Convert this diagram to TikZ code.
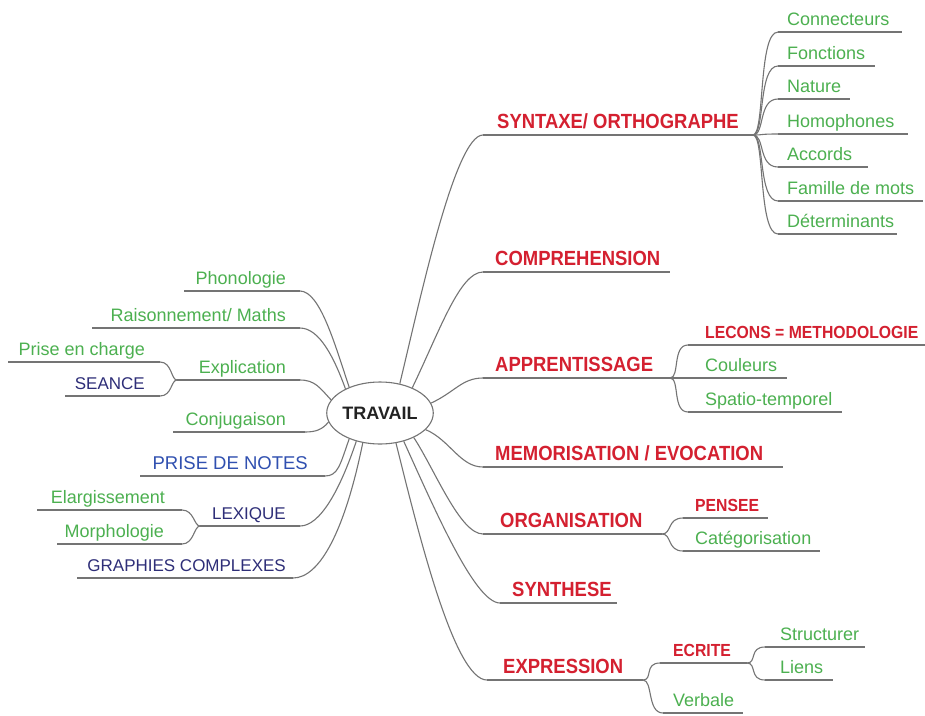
\documentclass[tikz,border=0pt]{standalone}
\usepackage{fontspec}
\setmainfont{Liberation Sans}
\newfontfamily\condsans{Liberation Sans}[FakeStretch=0.9]
\usetikzlibrary{shapes.geometric}

\definecolor{tred}{HTML}{D42030}
\definecolor{tgreen}{HTML}{4CB050}
\definecolor{tnavy}{HTML}{2E2E78}
\definecolor{tblue}{HTML}{3050B0}
\definecolor{linegray}{HTML}{747474}
\definecolor{textdark}{HTML}{222222}

% #1 name, #2 style, #3 text anchor, #4 text x, #5 underline y,
% #6 underline left end, #7 underline right end, #8 text
\newcommand\mmlabel[8]{%
  \coordinate (#1-l) at (#6,#5);
  \coordinate (#1-r) at (#7,#5);
  \node[#2, anchor=#3] (#1) at (#4,#5-7) {#8};
  \draw[link] (#1-l) -- (#1-r);
}

\begin{document}
\begin{tikzpicture}[x=1pt, y=-1pt,
  link/.style={draw=linegray, line width=1.1pt},
  ttl/.style={font=\condsans\bfseries\fontsize{20.5}{22}\selectfont, text=tred, inner sep=0},
  subred/.style={font=\condsans\bfseries\fontsize{17.5}{19}\selectfont, text=tred, inner sep=0},
  leaf/.style={font=\fontsize{18}{20}\selectfont, text=tgreen, inner sep=0},
  navy/.style={font=\fontsize{17}{19}\selectfont, text=tnavy, inner sep=0},
  bluet/.style={font=\fontsize{18.5}{20}\selectfont, text=tblue, inner sep=0},
  hub/.style={ellipse, draw=linegray, line width=1.1pt, fill=white,
    minimum width=105pt, minimum height=62pt, inner sep=0,
    font=\bfseries\fontsize{18}{20}\selectfont, text=textdark}]

\fill[white] (0,0) rectangle (925,715);
\useasboundingbox (0,0) rectangle (925,715);

% centre
\node[hub] (travail) at (380,413) {TRAVAIL};

% ---------- right-hand branches ----------
\mmlabel{syn}{ttl}{base west}{497}{135}{483}{753}{SYNTAXE/ ORTHOGRAPHE}
\mmlabel{comp}{ttl}{base west}{495}{272}{483}{670}{COMPREHENSION}
\mmlabel{appr}{ttl}{base west}{495}{378}{483}{670}{APPRENTISSAGE}
\mmlabel{memo}{ttl}{base west}{495}{467}{483}{783}{MEMORISATION / EVOCATION}
\mmlabel{orga}{ttl}{base west}{500}{534}{483}{662}{ORGANISATION}
\mmlabel{synt}{ttl}{base west}{512}{603}{500}{617}{SYNTHESE}
\mmlabel{expr}{ttl}{base west}{503}{680}{487}{643}{EXPRESSION}

% syntaxe / orthographe
\mmlabel{con}{leaf}{base west}{787}{32}{778}{902}{Connecteurs}
\mmlabel{fon}{leaf}{base west}{787}{66}{778}{875}{Fonctions}
\mmlabel{nat}{leaf}{base west}{787}{99}{778}{850}{Nature}
\mmlabel{hom}{leaf}{base west}{787}{134}{778}{908}{Homophones}
\mmlabel{acc}{leaf}{base west}{787}{167}{778}{868}{Accords}
\mmlabel{fam}{leaf}{base west}{787}{201}{778}{923}{Famille de mots}
\mmlabel{det}{leaf}{base west}{787}{234}{778}{897}{Déterminants}

% apprentissage
\mmlabel{lec}{subred}{base west}{705}{345}{688}{925}{LECONS = METHODOLOGIE}
\mmlabel{cou}{leaf}{base west}{705}{378}{688}{787}{Couleurs}
\mmlabel{spa}{leaf}{base west}{705}{412}{688}{842}{Spatio-temporel}

% organisation
\mmlabel{pen}{subred}{base west}{695}{518}{683}{768}{PENSEE}
\mmlabel{cat}{leaf}{base west}{695}{551}{683}{820}{Catégorisation}

% expression
\mmlabel{ecr}{subred}{base west}{673}{663}{660}{747}{ECRITE}
\mmlabel{ver}{leaf}{base west}{673}{713}{663}{743}{Verbale}
\mmlabel{str}{leaf}{base west}{780}{647}{765}{865}{Structurer}
\mmlabel{lie}{leaf}{base west}{780}{680}{765}{833}{Liens}

% ---------- left-hand branches ----------
\mmlabel{pho}{leaf}{base east}{286}{291}{184}{300}{Phonologie}
\mmlabel{rai}{leaf}{base east}{286}{328}{92}{300}{Raisonnement/ Maths}
\mmlabel{exl}{leaf}{base east}{286}{380}{177}{300}{Explication}
\mmlabel{pec}{leaf}{base east}{145}{362}{8}{160}{Prise en charge}
\mmlabel{sea}{navy}{base east}{145}{396}{65}{160}{SEANCE}
\mmlabel{cnj}{leaf}{base east}{286}{432}{173}{305}{Conjugaison}
\mmlabel{pdn}{bluet}{base east}{308}{476}{140}{325}{PRISE DE NOTES}
\mmlabel{lex}{navy}{base east}{286}{526}{200}{300}{LEXIQUE}
\mmlabel{ela}{leaf}{base east}{165}{510}{37}{182}{Elargissement}
\mmlabel{mor}{leaf}{base east}{164}{544}{57}{182}{Morphologie}
\mmlabel{gra}{navy}{base east}{286}{578}{77}{293}{GRAPHIES COMPLEXES}

% ---------- connectors from the centre ----------
\draw[link] (travail.56)  .. controls (420,300) and (455,135) .. (syn-l);
\draw[link] (travail.38)  .. controls (440,330) and (460,272) .. (comp-l);
\draw[link] (travail.11)  .. controls (455,392) and (462,378) .. (appr-l);
\draw[link] (travail.-20) .. controls (450,440) and (460,467) .. (memo-l);
\draw[link] (travail.-36) .. controls (435,470) and (460,534) .. (orga-l);
\draw[link] (travail.-50) .. controls (435,510) and (475,603) .. (synt-l);
\draw[link] (travail.-62) .. controls (420,540) and (455,680) .. (expr-l);

\draw[link] (travail.140) .. controls (335,345) and (320,291) .. (pho-r);
\draw[link] (travail.145) .. controls (335,360) and (320,328) .. (rai-r);
\draw[link] (travail.165) .. controls (320,388) and (315,380) .. (exl-r);
\draw[link] (travail.190) .. controls (322,430) and (315,432) .. (cnj-r);
\draw[link] (travail.-140) .. controls (340,465) and (338,476) .. (pdn-r);
\draw[link] (travail.-130) .. controls (340,490) and (320,526) .. (lex-r);
\draw[link] (travail.-120) .. controls (345,530) and (320,578) .. (gra-r);

% ---------- sub-branch connectors ----------
\foreach \c in {con,fon,nat,hom,acc,fam,det}
  \draw[link] (syn-r) .. controls +(12,0) and +(-20,0) .. (\c-l);
\foreach \c in {lec,cou,spa}
  \draw[link] (appr-r) .. controls +(10,0) and +(-16,0) .. (\c-l);
\foreach \c in {pen,cat}
  \draw[link] (orga-r) .. controls +(10,0) and +(-16,0) .. (\c-l);
\foreach \c in {ecr,ver}
  \draw[link] (expr-r) .. controls +(10,0) and +(-16,0) .. (\c-l);
\foreach \c in {str,lie}
  \draw[link] (ecr-r) .. controls +(10,0) and +(-16,0) .. (\c-l);
\foreach \c in {pec,sea}
  \draw[link] (exl-l) .. controls +(-6,0) and +(12,0) .. (\c-r);
\foreach \c in {ela,mor}
  \draw[link] (lex-l) .. controls +(-6,0) and +(12,0) .. (\c-r);

\end{tikzpicture}
\end{document}
